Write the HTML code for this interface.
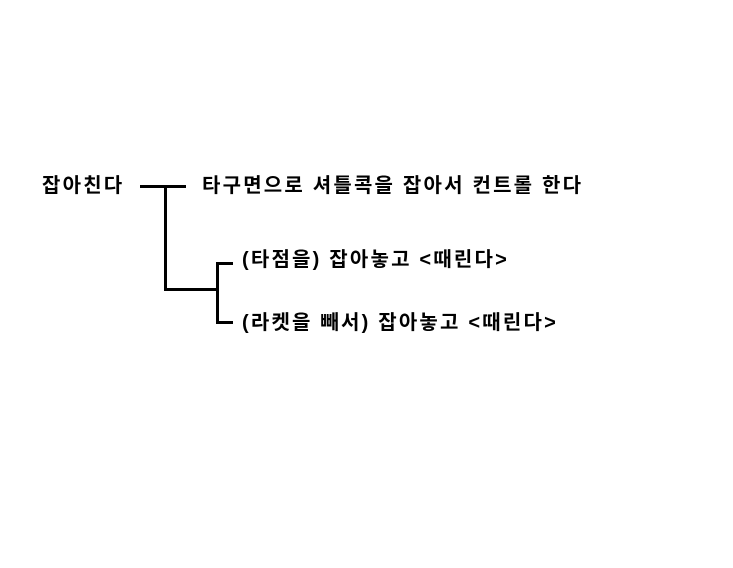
<!DOCTYPE html>
<html><head><meta charset="utf-8"><style>
html,body{margin:0;padding:0;background:#fff;width:733px;height:568px;overflow:hidden;position:relative}
.t{position:absolute;font-family:"Liberation Sans","Noto Sans CJK KR","NanumGothic",sans-serif;font-weight:bold;font-size:20px;letter-spacing:2.2px;line-height:22px;color:#000;white-space:nowrap}
.l{position:absolute;background:#000}
</style></head><body>
<div class="t" style="left:42px;top:175px">잡아친다</div>
<div class="t" style="left:202px;top:175px">타구면으로 셔틀콕을 잡아서 컨트롤 한다</div>
<div class="t" style="left:242px;top:249px">(타점을) 잡아놓고 &lt;때린다&gt;</div>
<div class="t" style="left:242px;top:312px">(라켓을 빼서) 잡아놓고 &lt;때린다&gt;</div>
<div class="l" style="left:140px;top:185px;width:46px;height:3px"></div>
<div class="l" style="left:164px;top:185px;width:3px;height:106px"></div>
<div class="l" style="left:164px;top:288px;width:55px;height:3px"></div>
<div class="l" style="left:216px;top:262px;width:3px;height:62px"></div>
<div class="l" style="left:216px;top:262px;width:17px;height:3px"></div>
<div class="l" style="left:216px;top:321px;width:17px;height:3px"></div>
</body></html>
